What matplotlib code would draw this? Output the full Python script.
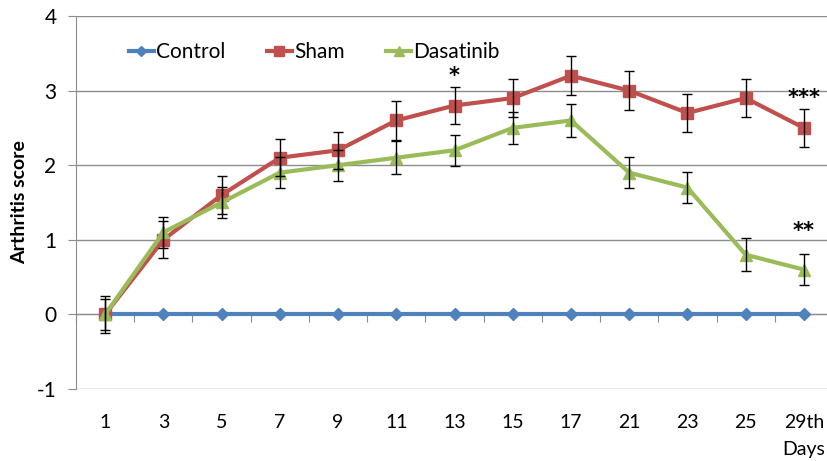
import matplotlib.pyplot as plt
import numpy as np

# --- data ---
days = ["1", "3", "5", "7", "9", "11", "13", "15", "17", "21", "23", "25", "29th"]
control = [0, 0, 0, 0, 0, 0, 0, 0, 0, 0, 0, 0, 0]
sham = [0, 1.0, 1.6, 2.1, 2.2, 2.6, 2.8, 2.9, 3.2, 3.0, 2.7, 2.9, 2.5]
sham_err = [0.25, 0.25, 0.25, 0.25, 0.25, 0.26, 0.25, 0.25, 0.26, 0.26, 0.26, 0.25, 0.25]
dasatinib = [0, 1.1, 1.5, 1.9, 2.0, 2.1, 2.2, 2.5, 2.6, 1.9, 1.7, 0.8, 0.6]
dasa_err = [0.21, 0.21, 0.21, 0.21, 0.21, 0.22, 0.21, 0.21, 0.22, 0.21, 0.21, 0.22, 0.21]

# significance marks: (category index, y value, text)
stars = [(6, 3.2, "*"), (12, 2.9, "***"), (12, 1.12, "**")]

plt.rcParams['font.family'] = ['Lato', 'DejaVu Sans']
plt.rcParams['axes.unicode_minus'] = False

W, H = 827, 461
fig = plt.figure(figsize=(W / 100, H / 100), dpi=100)
left, right, top, bottom = 76, 833, 16, 389
ax = fig.add_axes([left / W, 1 - bottom / H, (right - left) / W, (bottom - top) / H])

x = np.arange(len(days))
blue, red, green = '#4F81BD', '#C0504D', '#9BBB59'

ax.plot(x, control, color=blue, lw=3, marker='D', ms=6, label='Control', zorder=3)
ax.plot(x, sham, color=red, lw=3, marker='s', ms=9, label='Sham', zorder=4)
ax.plot(x, dasatinib, color=green, lw=3, marker='^', ms=9, label='Dasatinib', zorder=5)
ax.errorbar(x, sham, yerr=sham_err, fmt='none', ecolor='black', elinewidth=1, capsize=3.5, zorder=6)
ax.errorbar(x, dasatinib, yerr=dasa_err, fmt='none', ecolor='black', elinewidth=1, capsize=3.5, zorder=6)

for i, yv, s in stars:
    ax.text(i, yv, s, ha='center', va='center', fontsize=15, fontweight='bold',
            family='DejaVu Sans')

ax.set_xlim(-0.5, len(days) - 0.5)
ax.set_ylim(-1, 4)
ax.set_yticks([-1, 0, 1, 2, 3, 4])
ax.yaxis.grid(True, color='#8c8c8c', lw=1)
ax.set_axisbelow(True)
for sp in ['top', 'right', 'bottom']:
    ax.spines[sp].set_visible(False)
ax.spines['left'].set_color('#8c8c8c')
ax.tick_params(axis='y', length=6, color='#8c8c8c', labelsize=15, pad=8)
ax.set_xticks(x)
ax.set_xticklabels(days)
ax.tick_params(axis='x', length=0, labelsize=14, pad=18)
ax.set_ylabel('Arthritis score', fontsize=14, fontweight='bold', labelpad=6)

# category axis crossing at y = 0, ticks between categories
sec = ax.secondary_xaxis(0.2)
sec.set_xticks(np.arange(-0.5, len(days), 1.0))
sec.tick_params(axis='x', length=6, color='#8c8c8c', labelbottom=False)
sec.spines['bottom'].set_color('#8c8c8c')

ax.text(len(days) - 1, -1.7, 'Days', ha='center', va='top', fontsize=14)

ax.legend(loc='upper left', ncol=3, frameon=False, fontsize=15, bbox_to_anchor=(0.045, 0.98),
          handlelength=1.2, handletextpad=0.1, columnspacing=2.0, markerscale=0.8)

fig.savefig('out.png', dpi=100)
